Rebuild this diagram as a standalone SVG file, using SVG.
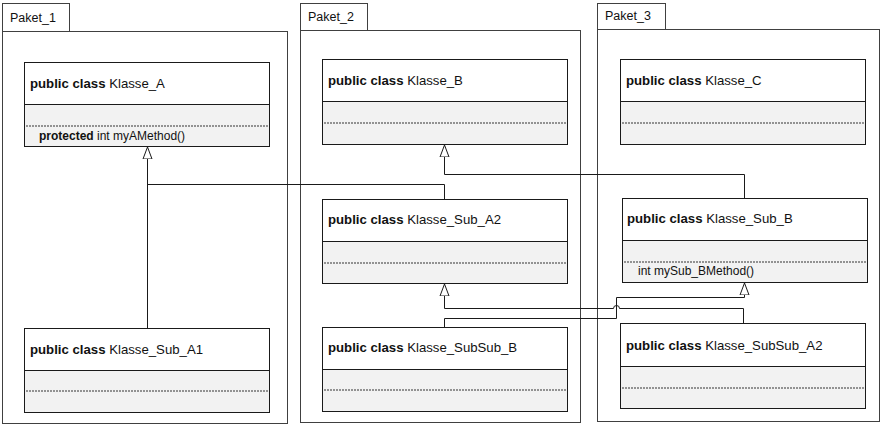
<svg xmlns="http://www.w3.org/2000/svg" width="882" height="426" viewBox="0 0 882 426">
<defs>
<style>
.pkg{fill:#fff;stroke:#404040;stroke-width:1}
.hdr{fill:#fff;stroke:#1a1a1a;stroke-width:1}
.bdy{fill:#f2f2f2;stroke:#1a1a1a;stroke-width:1}
.dot{stroke:#333;stroke-width:1;stroke-dasharray:2 1}
.t{font-family:"Liberation Sans",Arial,sans-serif;font-size:13.2px;fill:#111}
.b{font-weight:bold}
.m{font-family:"Liberation Sans",Arial,sans-serif;font-size:12px;fill:#111}
.pl{font-family:"Liberation Sans",Arial,sans-serif;font-size:12.5px;fill:#111}
.c{fill:none;stroke:#1a1a1a;stroke-width:1}
</style>
<marker id="gen" markerWidth="12" markerHeight="12" viewBox="0 0 12 12" refX="12" refY="6" orient="auto" markerUnits="userSpaceOnUse">
<path d="M0,1.5 L12,6 L0,10.5 Z" fill="#fff" stroke="#1a1a1a" stroke-width="1"/>
</marker>
</defs>
<rect width="882" height="426" fill="#fff"/>
<g id="paket_1">
<rect class="pkg" x="2.5" y="3.5" width="67" height="28"/>
<rect class="pkg" x="2.5" y="31.5" width="285" height="392"/>
<text class="pl" x="10" y="22">Paket_1</text>
</g>
<g id="paket_2">
<rect class="pkg" x="300.5" y="3.5" width="67" height="27"/>
<rect class="pkg" x="300.5" y="30.5" width="280" height="392"/>
<text class="pl" x="308" y="21">Paket_2</text>
</g>
<g id="paket_3">
<rect class="pkg" x="597.5" y="3.5" width="68" height="26"/>
<rect class="pkg" x="597.5" y="29.5" width="282" height="392"/>
<text class="pl" x="605" y="20">Paket_3</text>
</g>
<g id="klasse_a">
<rect class="hdr" x="24.5" y="62.5" width="245" height="42"/>
<rect class="bdy" x="24.5" y="104.5" width="245" height="42"/>
<line class="dot" x1="26" y1="126" x2="268" y2="126"/>
<text class="t" x="30" y="88"><tspan class="b">public class</tspan> Klasse_A</text>
<text class="m" x="39" y="140"><tspan class="b">protected</tspan> int myAMethod()</text>
</g>
<g id="klasse_b">
<rect class="hdr" x="322.5" y="59.5" width="245" height="42"/>
<rect class="bdy" x="322.5" y="101.5" width="245" height="43"/>
<line class="dot" x1="324" y1="123" x2="566" y2="123"/>
<text class="t" x="328" y="85"><tspan class="b">public class</tspan> Klasse_B</text>
</g>
<g id="klasse_c">
<rect class="hdr" x="620.5" y="59.5" width="245" height="42"/>
<rect class="bdy" x="620.5" y="101.5" width="245" height="43"/>
<line class="dot" x1="622" y1="123" x2="864" y2="123"/>
<text class="t" x="626" y="85"><tspan class="b">public class</tspan> Klasse_C</text>
</g>
<g id="klasse_sub_a1">
<rect class="hdr" x="24.5" y="328.5" width="245" height="42"/>
<rect class="bdy" x="24.5" y="370.5" width="245" height="42"/>
<line class="dot" x1="26" y1="391" x2="268" y2="391"/>
<text class="t" x="30" y="354"><tspan class="b">public class</tspan> Klasse_Sub_A1</text>
</g>
<g id="klasse_sub_a2">
<rect class="hdr" x="322.5" y="199.5" width="245" height="42"/>
<rect class="bdy" x="322.5" y="241.5" width="245" height="42"/>
<line class="dot" x1="324" y1="263" x2="566" y2="263"/>
<text class="t" x="328" y="224"><tspan class="b">public class</tspan> Klasse_Sub_A2</text>
</g>
<g id="klasse_subsub_b">
<rect class="hdr" x="322.5" y="327.5" width="245" height="42"/>
<rect class="bdy" x="322.5" y="369.5" width="245" height="42"/>
<line class="dot" x1="324" y1="390" x2="566" y2="390"/>
<text class="t" x="328" y="352"><tspan class="b">public class</tspan> Klasse_SubSub_B</text>
</g>
<g id="klasse_sub_b">
<rect class="hdr" x="622.5" y="198.5" width="245" height="42"/>
<rect class="bdy" x="622.5" y="240.5" width="245" height="42"/>
<line class="dot" x1="624" y1="262" x2="866" y2="262"/>
<text class="t" x="627" y="223"><tspan class="b">public class</tspan> Klasse_Sub_B</text>
<text class="m" x="638" y="275">int mySub_BMethod()</text>
</g>
<g id="klasse_subsub_a2">
<rect class="hdr" x="620.5" y="323.5" width="245" height="43"/>
<rect class="bdy" x="620.5" y="366.5" width="245" height="42"/>
<line class="dot" x1="622" y1="388" x2="864" y2="388"/>
<text class="t" x="626" y="350"><tspan class="b">public class</tspan> Klasse_SubSub_A2</text>
</g>
<g id="connectors">
<path class="c" d="M147.5,328 V147" marker-end="url(#gen)"/>
<path class="c" d="M444.5,199 V184.5 H147.5"/>
<path class="c" d="M744.5,198 V174.5 H444.5 V145" marker-end="url(#gen)"/>
<path class="c" d="M743.5,323 V308.5 H619.5 A3,3 0 0 0 613.5,308.5 H444.5 V284" marker-end="url(#gen)"/>
<path class="c" d="M444.5,327 V318.5 H616.5 V297.5 H744.5 V283" marker-end="url(#gen)"/>
</g>
</svg>
